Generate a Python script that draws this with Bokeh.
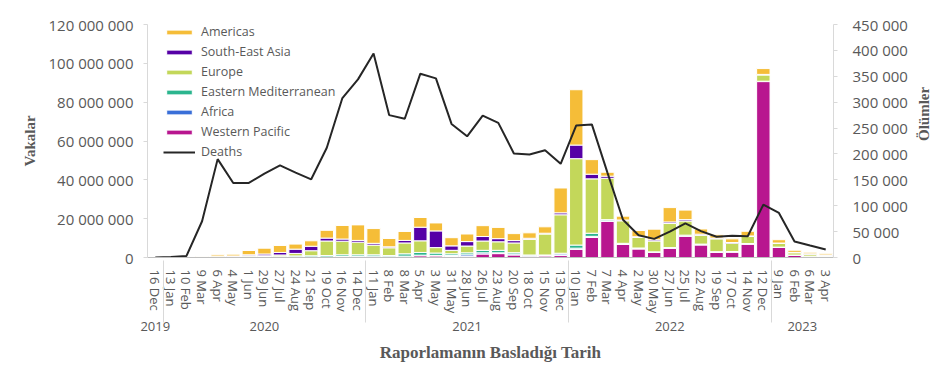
import math
from bokeh.plotting import figure
from bokeh.models import (FactorRange, Range1d, LinearAxis, FixedTicker, CustomJSTickFormatter,
                          Legend, LegendItem, ColumnDataSource)
from bokeh.embed import file_html
from bokeh.resources import INLINE

# ---- data -------------------------------------------------------------
years = ["2019"] + ["2020"] * 13 + ["2021"] * 13 + ["2022"] * 13 + ["2023"] * 4
dates = ["16 Dec", "13 Jan", "10 Feb", "9 Mar", "6 Apr", "4 May", "1 Jun", "29 Jun", "27 Jul",
         "24 Aug", "21 Sep", "19 Oct", "16 Nov", "14 Dec", "11 Jan", "8 Feb", "8 Mar", "5 Apr",
         "3 May", "31 May", "28 Jun", "26 Jul", "23 Aug", "20 Sep", "18 Oct", "15 Nov", "13 Dec",
         "10 Jan", "7 Feb", "7 Mar", "4 Apr", "2 May", "30 May", "27 Jun", "25 Jul", "22 Aug",
         "19 Sep", "17 Oct", "14 Nov", "12 Dec", "9 Jan", "6 Feb", "6 Mar", "3 Apr"]

# cases in millions
western_pacific = [0.001, 0.01, 0.07, 0.05, 0.03, 0.02, 0.03, 0.05, 0.05, 0.1, 0.1, 0.1, 0.3, 0.3,
                   0.3, 0.2, 0.4, 0.9, 0.8, 0.5, 0.6, 1.8, 2.0, 1.3, 0.7, 0.8, 1.0, 4.2, 10.3,
                   18.6, 6.7, 4.4, 2.6, 4.8, 11.0, 6.5, 2.7, 2.8, 6.9, 90.6, 5.2, 1.1, 0.6, 0.4]
africa = [0, 0, 0, 0.005, 0.02, 0.03, 0.07, 0.15, 0.25, 0.2, 0.2, 0.2, 0.2, 0.3,
          0.4, 0.2, 0.3, 0.3, 0.3, 0.5, 0.8, 0.6, 0.4, 0.5, 0.2, 0.2, 0.8, 0.6, 0.6,
          0.3, 0.2, 0.2, 0.1, 0.1, 0.1, 0.1, 0.1, 0.1, 0.1, 0.1, 0.05, 0.05, 0.05, 0.02]
eastern_med = [0, 0, 0.001, 0.05, 0.05, 0.15, 0.3, 0.3, 0.4, 0.5, 0.6, 0.7, 0.9, 0.8,
               0.7, 0.6, 1.2, 1.4, 1.2, 0.9, 1.0, 1.3, 1.3, 0.7, 0.4, 0.3, 0.4, 1.6, 1.6,
               0.6, 0.4, 0.3, 0.2, 0.2, 0.4, 0.3, 0.2, 0.2, 0.2, 0.1, 0.1, 0.1, 0.05, 0.05]
europe = [0, 0, 0.001, 0.45, 0.55, 0.45, 0.5, 0.4, 0.6, 1.3, 2.6, 7.5, 7.0, 6.5,
          5.0, 4.0, 5.6, 6.0, 2.8, 1.8, 3.5, 4.8, 4.4, 5.0, 8.0, 10.8, 19.8, 44.5, 28.0,
          21.3, 11.6, 5.4, 5.6, 12.4, 7.3, 4.5, 6.6, 4.3, 3.6, 3.2, 1.9, 1.2, 1.0, 0.7]
south_east_asia = [0, 0, 0, 0.01, 0.05, 0.15, 0.5, 0.9, 1.3, 2.2, 2.3, 1.5, 1.1, 0.9,
                   0.9, 0.5, 1.3, 7.0, 8.6, 2.3, 2.3, 2.3, 1.6, 1.2, 0.6, 0.4, 1.0, 7.0, 2.4,
                   1.1, 0.4, 0.4, 0.6, 0.8, 0.7, 0.6, 0.4, 0.3, 0.3, 0.3, 0.2, 0.2, 0.2, 0.1]
americas = [0, 0, 0, 0.15, 0.7, 0.9, 2.2, 3.0, 3.6, 2.6, 2.8, 4.0, 7.0, 8.0,
            7.6, 4.3, 4.6, 5.0, 4.1, 4.2, 3.9, 5.6, 5.8, 3.6, 2.8, 3.3, 12.8, 28.5, 7.5,
            2.0, 2.0, 3.2, 5.5, 7.4, 4.9, 2.7, 1.7, 1.9, 2.4, 3.0, 1.7, 1.1, 0.8, 0.6]
deaths = [0, 1000, 3000, 70000, 190000, 144000, 144000, 162000, 178000, 164000, 151000, 212000,
          308000, 344000, 394000, 275000, 268000, 355000, 346000, 258000, 234000, 274000, 260000,
          201000, 199000, 207000, 181000, 255000, 257000, 164000, 73000, 43000, 36000, 50000,
          66000, 51000, 40000, 42000, 41000, 102000, 86000, 31000, 23000, 15500]

regions = ["Western Pacific", "Africa", "Eastern Mediterranean", "Europe", "South-East Asia", "Americas"]
colors = ["#B8168F", "#3A6FD8", "#2BB58E", "#C3D75A", "#5600A6", "#F5BD38"]
region_values = [western_pacific, africa, eastern_med, europe, south_east_asia, americas]

# ---- build -----------------------------------------------------------
factors = list(zip(years, dates))
src = {"x": factors, "deaths": deaths}
for name, vals in zip(regions, region_values):
    src[name] = [v * 1e6 for v in vals]
source = ColumnDataSource(src)

TXT = "#595959"
FONT = "Open Sans"

W, H = 944, 365
p = figure(width=W, height=H,
           x_range=FactorRange(*factors, factor_padding=0, group_padding=0, range_padding=0),
           y_range=Range1d(0, 120e6),
           output_backend="svg", toolbar_location=None,
           min_border_left=147, min_border_right=W - 833, min_border_top=24, min_border_bottom=H - 258)
p.outline_line_color = None
p.xgrid.grid_line_color = None
p.ygrid.grid_line_color = None
p.background_fill_color = "white"

bars = p.vbar_stack(regions, x="x", width=0.86, source=source, color=colors,
                    line_color="white", line_width=1)

p.extra_y_ranges = {"deaths": Range1d(0, 450000)}
dl = p.line(x="x", y="deaths", source=source, y_range_name="deaths",
            line_color="#262626", line_width=2)

fmt = CustomJSTickFormatter(code=r"return tick.toFixed(0).replace(/\B(?=(\d{3})+(?!\d))/g, ' ');")

# left axis
ya = p.yaxis[0]
ya.ticker = FixedTicker(ticks=[0, 20e6, 40e6, 60e6, 80e6, 100e6, 120e6])
ya.formatter = fmt
ya.axis_line_color = "#d9d9d9"
ya.major_tick_line_color = "#d9d9d9"
ya.major_tick_out = 4
ya.major_tick_in = 0
ya.minor_tick_line_color = None
ya.major_label_standoff = 10
ya.major_label_text_font = FONT
ya.major_label_text_font_size = "15px"
ya.major_label_text_color = TXT
ya.axis_label = "Vakalar"
ya.axis_label_text_font = "Liberation Serif"
ya.axis_label_text_font_style = "bold"
ya.axis_label_text_font_size = "15px"
ya.axis_label_text_color = TXT
ya.axis_label_standoff = 8

# right axis
ra = LinearAxis(y_range_name="deaths",
                ticker=FixedTicker(ticks=list(range(0, 450001, 50000))),
                formatter=fmt)
ra.axis_line_color = "#d9d9d9"
ra.major_tick_line_color = "#d9d9d9"
ra.major_tick_out = 4
ra.major_tick_in = 0
ra.minor_tick_line_color = None
ra.major_label_standoff = 15
ra.major_label_text_font = FONT
ra.major_label_text_font_size = "15px"
ra.major_label_text_color = TXT
ra.axis_label = "Ölümler"
ra.axis_label_text_font = "Liberation Serif"
ra.axis_label_text_font_style = "bold"
ra.axis_label_text_font_size = "15px"
ra.axis_label_text_color = TXT
ra.axis_label_standoff = 13
if "axis_label_orientation" in ra.properties():
    ra.axis_label_orientation = math.pi / 2
p.add_layout(ra, "right")

# x axis
xa = p.xaxis[0]
xa.axis_line_color = "#bfbfbf"
xa.major_tick_line_color = None
xa.minor_tick_line_color = None
xa.major_label_orientation = "vertical"
xa.major_label_text_font = FONT
xa.major_label_text_font_size = "13px"
xa.major_label_text_color = TXT
xa.major_label_standoff = 6
xa.group_text_font = FONT
xa.group_text_font_size = "13px"
xa.group_text_color = TXT
xa.group_text_font_style = "normal"
xa.separator_line_color = "#d9d9d9"
xa.separator_line_width = 1
xa.axis_label = "Raporlamanın Basladığı Tarih"
xa.axis_label_text_font = "Liberation Serif"
xa.axis_label_text_font_style = "bold"
xa.axis_label_text_font_size = "17px"
xa.axis_label_text_color = TXT
xa.axis_label_standoff = 9

# legend
items = [LegendItem(label=name, renderers=[bars[i]]) for i, name in reversed(list(enumerate(regions)))]
items.append(LegendItem(label="Deaths", renderers=[dl]))
legend = Legend(items=items, location=(16, 97), padding=0, margin=0,
                glyph_width=32, glyph_height=6, label_standoff=6, spacing=3,
                label_height=14,
                label_text_font=FONT, label_text_font_size="12.5px", label_text_color=TXT,
                background_fill_alpha=0, border_line_color=None)
p.add_layout(legend)

open("out.html", "w").write(file_html(p, INLINE))
